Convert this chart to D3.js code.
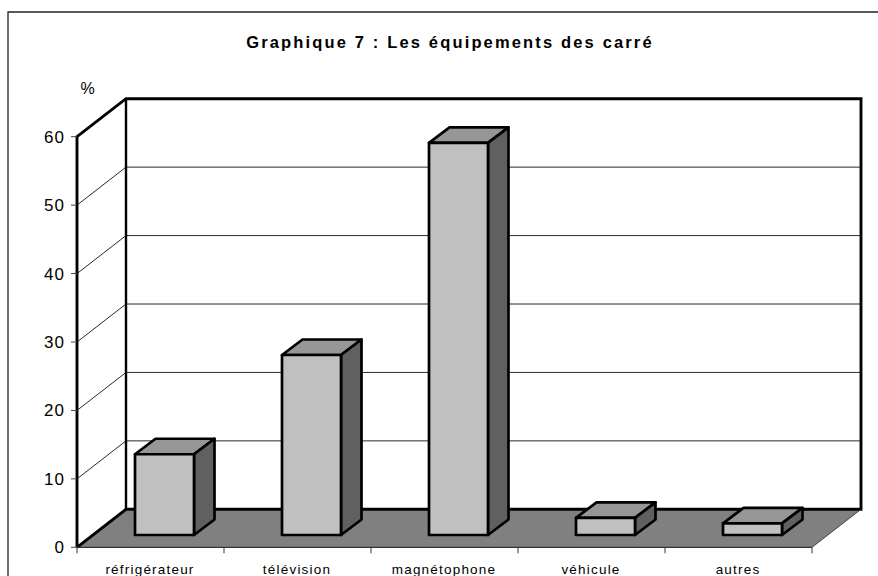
<!DOCTYPE html>
<html lang="fr">
<head>
    <meta charset="UTF-8">
    <script src="https://cdn.jsdelivr.net/npm/d3@7"></script>
    <title>Graphique 7</title>
    <style>
        html, body { margin: 0; padding: 0; background: white; }
        svg { display: block; }
        text { font-family: "Liberation Sans", Arial, sans-serif; fill: black; }
    </style>
</head>
<body>
    <div id="chart"></div>
    <script>
        const categories = ["réfrigérateur", "télévision", "magnétophone", "véhicule", "autres"];
        const values = [11.8, 26.3, 57.3, 2.5, 1.7];
        const yTicks = [0, 10, 20, 30, 40, 50, 60];

        const width = 878, height = 576;

        const svg = d3.select("#chart").append("svg")
            .attr("width", width)
            .attr("height", height);

        const line = d3.line();

        // outer frame, only left and top are in the picture
        svg.append("path")
            .attr("d", line([[8, height], [8, 12], [width, 12]]))
            .attr("fill", "none")
            .attr("stroke", "#222").attr("stroke-width", 1.3);

        const x = d3.scaleBand().domain(categories).range([77, 812]);
        const y = d3.scaleLinear().domain([0, 60]).range([547.3, 136.7]);

        // depth of the 3d box
        const depthX = 49, depthY = -38;
        const backX = x.range()[1] + depthX;
        const backLeft = x.range()[0] + depthX;

        // floor
        svg.append("path")
            .attr("d", line([[77, y(0)], [812, y(0)], [backX, y(0) + depthY], [backLeft, y(0) + depthY]]) + "Z")
            .attr("fill", "#808080");

        // gridlines
        yTicks.slice(1, -1).forEach(t => {
            svg.append("path")
                .attr("d", line([[77, y(t)], [backLeft, y(t) + depthY], [backX, y(t) + depthY]]))
                .attr("fill", "none").attr("stroke", "#111").attr("stroke-width", 0.9);
        });

        // walls
        svg.append("path")
            .attr("d", line([[77, y(0)], [77, y(60)], [backLeft, y(60) + depthY], [backX, y(60) + depthY], [backX, y(0) + depthY], [backLeft, y(0) + depthY], [77, y(0)]]))
            .attr("fill", "none").attr("stroke", "black").attr("stroke-width", 2.9);
        svg.append("path")
            .attr("d", line([[backLeft, y(60) + depthY], [backLeft, y(0) + depthY]]))
            .attr("fill", "none").attr("stroke", "black").attr("stroke-width", 2.4);
        svg.append("path")
            .attr("d", line([[812, y(0)], [backX, y(0) + depthY]]))
            .attr("fill", "none").attr("stroke", "#333").attr("stroke-width", 0.9);
        svg.append("path")
            .attr("d", line([[77, y(0)], [812, y(0)]]))
            .attr("fill", "none").attr("stroke", "#333").attr("stroke-width", 1.2);

        // bars
        const barW = 59, baseUp = 12.3, barDX = 20.5, barDY = 15.5;
        const barStyle = s => s.attr("stroke", "black").attr("stroke-width", 2.7).attr("stroke-linejoin", "round");
        categories.forEach((c, i) => {
            const x0 = x(c) + 58;
            const x1 = x0 + barW;
            const top = y(values[i]) - baseUp;
            const bot = y(0) - baseUp;
            svg.append("path")
                .attr("d", line([[x0, top], [x0 + barDX, top - barDY], [x1 + barDX, top - barDY], [x1, top]]) + "Z")
                .attr("fill", "#969696").call(barStyle);
            svg.append("path")
                .attr("d", line([[x1, top], [x1 + barDX, top - barDY], [x1 + barDX, bot - barDY], [x1, bot]]) + "Z")
                .attr("fill", "#606060").call(barStyle);
            svg.append("rect")
                .attr("x", x0).attr("y", top)
                .attr("width", barW).attr("height", bot - top)
                .attr("fill", "#c0c0c0").call(barStyle);
        });

        // y axis labels and ticks
        yTicks.forEach(t => {
            svg.append("line")
                .attr("x1", 71).attr("x2", 77)
                .attr("y1", y(t)).attr("y2", y(t))
                .attr("stroke", "#444");
            svg.append("text")
                .attr("x", 65).attr("y", y(t) + 6)
                .attr("text-anchor", "end")
                .attr("font-size", 17)
                .attr("letter-spacing", 1)
                .text(t);
        });

        svg.append("text")
            .attr("x", 87.5).attr("y", 94)
            .attr("text-anchor", "middle")
            .attr("font-size", 16)
            .text("%");

        // x axis ticks and labels
        d3.range(categories.length + 1).forEach(i => {
            const px = x.range()[0] + i * x.bandwidth();
            svg.append("line")
                .attr("x1", px).attr("x2", px)
                .attr("y1", y(0)).attr("y2", y(0) + 6)
                .attr("stroke", "#333");
        });
        categories.forEach(c => {
            svg.append("text")
                .attr("x", x(c) + x.bandwidth() / 2 - 0.5).attr("y", 574)
                .attr("text-anchor", "middle")
                .attr("font-size", 13.5)
                .attr("letter-spacing", 1.2)
                .text(c);
        });

        svg.append("text")
            .attr("x", 450).attr("y", 48)
            .attr("text-anchor", "middle")
            .attr("font-size", 16.5)
            .attr("font-weight", "bold")
            .attr("letter-spacing", 2.15)
            .text("Graphique 7 : Les équipements des carré");
    </script>
</body>
</html>
